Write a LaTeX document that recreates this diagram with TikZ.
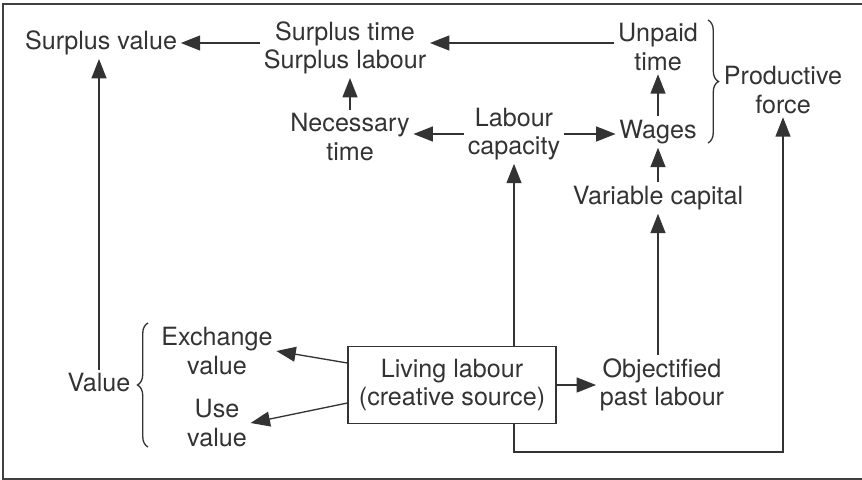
\documentclass[tikz,border=0pt]{standalone}
\usepackage{fontspec}
\setmainfont{TeX Gyre Heros}
\usepackage{tikz}
\usetikzlibrary{positioning,calc,arrows.meta,decorations.pathreplacing}

\begin{document}
\begin{tikzpicture}[x=0.02cm,y=-0.02cm,
        >={Triangle[length=11pt,width=8.5pt]},
        lbl/.style={align=center,inner sep=2pt,text=black!80,font=\fontsize{14.3}{16}\selectfont},
        srcbox/.style={lbl,draw=black!80,line width=0.75pt,minimum width=4.16cm,minimum height=1.54cm},
        link/.style={->,draw=black!80,line width=0.75pt},
        curly/.style={draw=black!80,line width=0.75pt,decorate,decoration={brace,amplitude=6pt}}]
        \useasboundingbox (0,0) rectangle (862,480);
        \draw[black!75,line width=1.1pt] (862,4) -- (3,4) -- (3,479) -- (862,479);
        \node[lbl] (sv) at (101,43) {Surplus value};
        \node[lbl] (st) at (345,48) {Surplus time\\Surplus labour};
        \node[lbl] (up) at (658,47) {Unpaid\\time};
        \node[lbl] (nt) at (350,137) {Necessary\\time};
        \node[lbl] (cap) at (514,134) {Labour\\capacity};
        \node[lbl] (wag) at (658,132) {Wages};
        \node[lbl] (pf) at (783,90) {Productive\\force};
        \node[lbl] (vc) at (658,198) {Variable capital};
        \node[srcbox] (live) at (452,385) {Living labour\\(creative source)};
        \node[lbl] (obj) at (662,385) {Objectified\\past labour};
        \node[lbl] (ex) at (217,351) {Exchange\\value};
        \node[lbl] (use) at (217,423) {Use\\value};
        \node[lbl] (val) at (99,383) {Value};
        \coordinate (bend) at (514,452);
        \draw[link] (st.west |- sv) -- (sv.east);
        \draw[link] (up.west |- sv) -- (st.east |- sv);
        \draw[link] (nt.north) -- (nt.north |- st.south);
        \draw[link] (cap.west) -- (cap.west -| nt.east);
        \draw[link] (cap.east) -- (cap.east -| wag.west);
        \draw[link] (wag) -- (up);
        \draw[link] (vc) -- (wag);
        \draw[link] (obj.north -| vc) -- (vc.south);
        \draw[link] (live.north -| cap) -- (cap.south);
        \draw[link] (live) -- (obj);
        \draw[link] ($(live.west)+(0,-22)$) -- (ex.east);
        \draw[link] ($(live.west)+(0,18)$) -- (use.east);
        \draw[link] (live.south -| bend) -- (bend) -| (pf.south);
        \draw[link] (val.north) -- (val.north |- sv.south);
        \draw[curly] (708,20) -- (708,143);
        \draw[curly] (148,447) -- (148,323);
    \end{tikzpicture}
\end{document}
